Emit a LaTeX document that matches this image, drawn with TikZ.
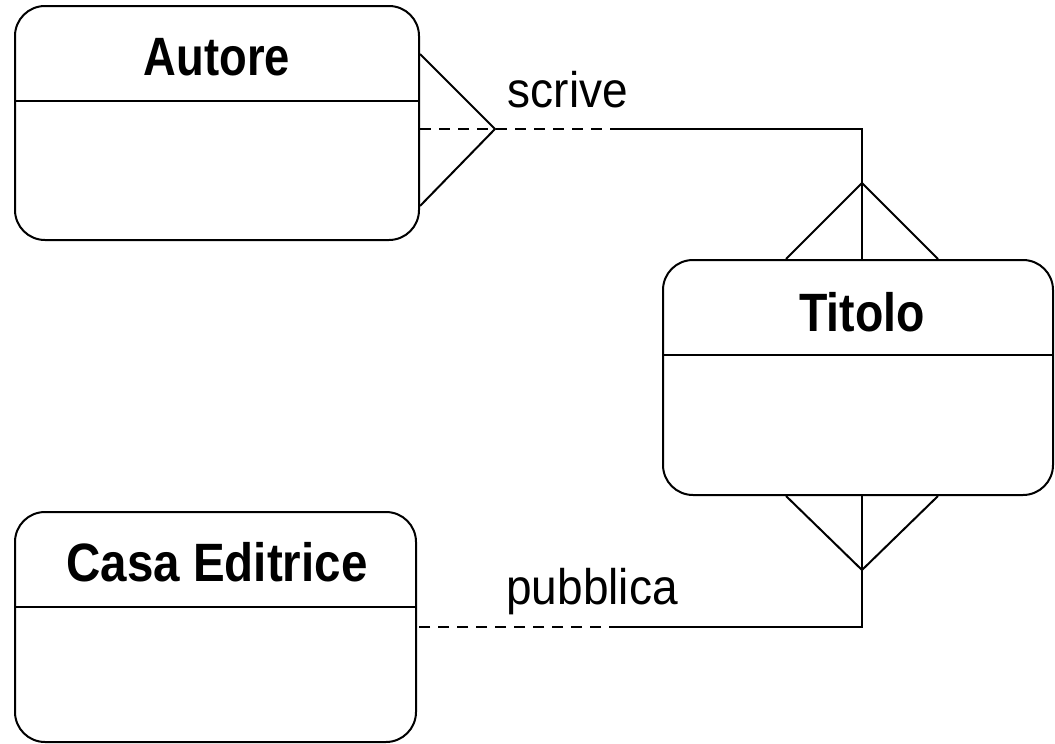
\documentclass[tikz,border=0pt]{standalone}
\usepackage{fontspec}
\setmainfont{Liberation Sans}
\begin{document}
\begin{tikzpicture}[x=1pt,y=-1pt,
  entity/.style={draw, line width=2pt, rounded corners=30pt, rectangle, inner sep=0pt},
  title/.style={inner sep=0pt, font=\fontsize{54}{60}\selectfont\bfseries},
  rel/.style={inner sep=0pt, font=\fontsize{50}{56}\selectfont},
  conn/.style={line width=2pt},
  dconn/.style={line width=2pt, dash pattern=on 11pt off 8pt}]
\useasboundingbox (0,0) rectangle (1055,744);
% entities
\node[entity, minimum width=404pt, minimum height=234pt] (autore) at (217,123) {};
\node[entity, minimum width=390pt, minimum height=235pt] (titolo) at (858,377.5) {};
\node[entity, minimum width=401pt, minimum height=230pt] (casa) at (215.5,627) {};
% titles
\node[title] (tA) at (217,57) {\scalebox{0.84}[1]{Autore}};
\node[title] (tT) at (862,312) {\scalebox{0.86}[1]{Titolo}};
\node[title] (tC) at (217,562) {\scalebox{0.88}[1]{Casa Editrice}};
% dividers
\draw[conn] (autore.west |- 0,101) -- (autore.east |- 0,101);
\draw[conn] (titolo.west |- 0,355) -- (titolo.east |- 0,355);
\draw[conn] (casa.west |- 0,607) -- (casa.east |- 0,607);
% relation labels
\node[rel] (lS) at (568,90) {\scalebox{0.92}[1]{scrive}};
\node[rel] (lP) at (592,592) {\scalebox{0.92}[1]{pubblica}};
% scrive connector
\coordinate (sa) at (495,129);
\coordinate (sm) at (620,129);
\coordinate (sc) at (862,129);
\coordinate (ta) at (862,183);
\draw[conn] (autore.east |- 0,54) -- (sa) -- (autore.east |- 0,206);
\draw[dconn] (autore.east |- sa) -- (sm);
\draw[conn] (sm) -- (sc) -- (sc |- titolo.north);
\draw[conn] (titolo.north -| 786,0) -- (ta) -- (titolo.north -| 938,0);
% pubblica connector
\coordinate (tb) at (862,570);
\coordinate (pc) at (862,627);
\coordinate (pm) at (620,627);
\draw[conn] (titolo.south -| 786,0) -- (tb) -- (titolo.south -| 938,0);
\draw[conn] (titolo.south -| pc) -- (pc) -- (pm);
\draw[dconn] (pm) -- (casa.east |- pm);
\end{tikzpicture}
\end{document}
